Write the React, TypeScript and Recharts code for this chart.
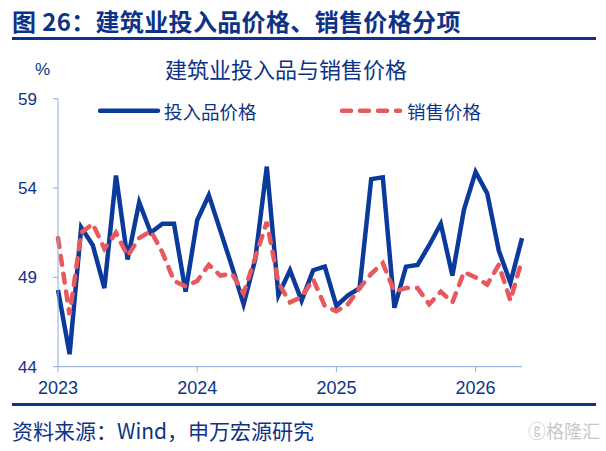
import React from 'react';
import { LineChart, Line, XAxis, YAxis } from 'recharts';

const inputPrice = [48.3, 44.7, 51.8, 50.8, 48.4, 54.7, 50.0, 53.2, 51.5, 52.0, 52.0, 48.2, 52.2, 53.6, 51.6, 49.6, 47.5, 50.0, 55.2, 48.0, 49.4, 47.7, 49.4, 49.6, 47.4, 48.0, 48.4, 54.5, 54.6, 47.3, 49.6, 49.7, 50.8, 52.0, 49.1, 52.8, 54.9, 53.7, 50.5, 48.7, 51.2];
const salesPrice = [51.2, 46.9, 51.5, 52.0, 50.6, 51.5, 50.2, 51.2, 51.6, 50.4, 48.8, 48.5, 48.8, 49.7, 49.1, 49.2, 48.1, 50.1, 52.1, 48.7, 47.6, 47.9, 48.9, 47.4, 47.1, 47.5, 48.4, 49.2, 49.8, 48.2, 48.4, 48.4, 47.5, 48.2, 47.6, 49.3, 49.0, 48.6, 49.7, 47.7, 50.0];
const yearTickPositions = [0, 12, 24, 36];
const yearTickLabels = ['2023', '2024', '2025', '2026'];
const yTicks = [44, 49, 54, 59];

const data = inputPrice.map((v, i) => ({ m: i, input: v, sales: salesPrice[i] }));

const FONT = '"Liberation Sans", Arial, "Noto Sans CJK SC", sans-serif';
const CJK = '"Noto Sans CJK SC", "Liberation Sans", sans-serif';
const NAVY = '#0d3387';
const BLUE = '#0a3a9c';
const RED = '#e8585c';
const AXIS = '#8eaadb';

const ChartLegend = () => (
  <div style={{ position: 'absolute', left: 98, top: 98, width: 420, height: 30 }}>
    <svg width={420} height={30} style={{ position: 'absolute', left: 0, top: 0 }}>
      <line x1={2} y1={12.7} x2={60} y2={12.7} stroke={BLUE} strokeWidth={4.5} strokeLinecap="round" />
      <line x1={244} y1={12.7} x2={302} y2={12.7} stroke={RED} strokeWidth={4.5} strokeDasharray="9 9" strokeLinecap="round" />
    </svg>
    <span style={{ position: 'absolute', left: 66, top: 0, fontFamily: CJK, fontSize: 18.5, lineHeight: '26px', color: NAVY, whiteSpace: 'nowrap' }}>投入品价格</span>
    <span style={{ position: 'absolute', left: 309, top: 0, fontFamily: CJK, fontSize: 18.5, lineHeight: '26px', color: NAVY, whiteSpace: 'nowrap' }}>销售价格</span>
  </div>
);

export default function App() {
  return (
    <div style={{ position: 'absolute', left: 0, top: 0, width: 606, height: 451, background: '#fff', overflow: 'hidden' }}>
      <div style={{ position: 'absolute', left: 12, top: 6, fontFamily: CJK, fontWeight: 700, fontSize: 24, letterSpacing: 0.35, lineHeight: '30px', color: NAVY, whiteSpace: 'nowrap' }}>
        图 26：建筑业投入品价格、销售价格分项
      </div>
      <div style={{ position: 'absolute', left: 12, top: 37, width: 584, height: 3, background: NAVY }} />
      <div style={{ position: 'absolute', left: 165, top: 54, fontFamily: CJK, fontSize: 22, lineHeight: '28px', color: NAVY, whiteSpace: 'nowrap' }}>
        建筑业投入品与销售价格
      </div>
      <div style={{ position: 'absolute', left: 35, top: 60, fontFamily: FONT, fontSize: 17, lineHeight: '20px', color: NAVY }}>%</div>
      <LineChart width={606} height={451} data={data} margin={{ top: 98.7, right: 84, bottom: 54.3, left: 0 }} style={{ position: 'absolute', left: 0, top: 0 }}>
        <XAxis
          dataKey="m"
          type="number"
          domain={[0, 40]}
          ticks={yearTickPositions}
          tickFormatter={(v) => yearTickLabels[yearTickPositions.indexOf(v)]}
          height={30}
          stroke={AXIS}
          tickSize={5}
          tickMargin={10}
          tick={{ fill: NAVY, fontSize: 18, fontFamily: FONT }}
          interval={0}
        />
        <YAxis
          domain={[44, 59]}
          ticks={yTicks}
          width={58}
          stroke={AXIS}
          tickSize={5}
          tickMargin={16}
          tick={{ fill: NAVY, fontSize: 17, fontFamily: FONT }}
          interval={0}
          allowDataOverflow
        />
        <Line type="linear" dataKey="input" stroke={BLUE} strokeWidth={4.5} dot={false} isAnimationActive={false} strokeLinejoin="miter" />
        <Line type="linear" dataKey="sales" stroke={RED} strokeWidth={4.5} strokeDasharray="9 9" strokeLinecap="round" dot={false} isAnimationActive={false} />
      </LineChart>
      <ChartLegend />
      <div style={{ position: 'absolute', left: 12, top: 403, width: 584, height: 3, background: NAVY }} />
      <div style={{ position: 'absolute', left: 12, top: 416, fontFamily: CJK, fontSize: 21, lineHeight: '28px', color: NAVY, whiteSpace: 'nowrap' }}>
        资料来源：Wind，申万宏源研究
      </div>
      <div style={{ position: 'absolute', left: 528, top: 418, fontFamily: CJK, fontSize: 18, lineHeight: '24px', color: '#c8c8c8', whiteSpace: 'nowrap' }}>
        ⓖ格隆汇
      </div>
    </div>
  );
}
